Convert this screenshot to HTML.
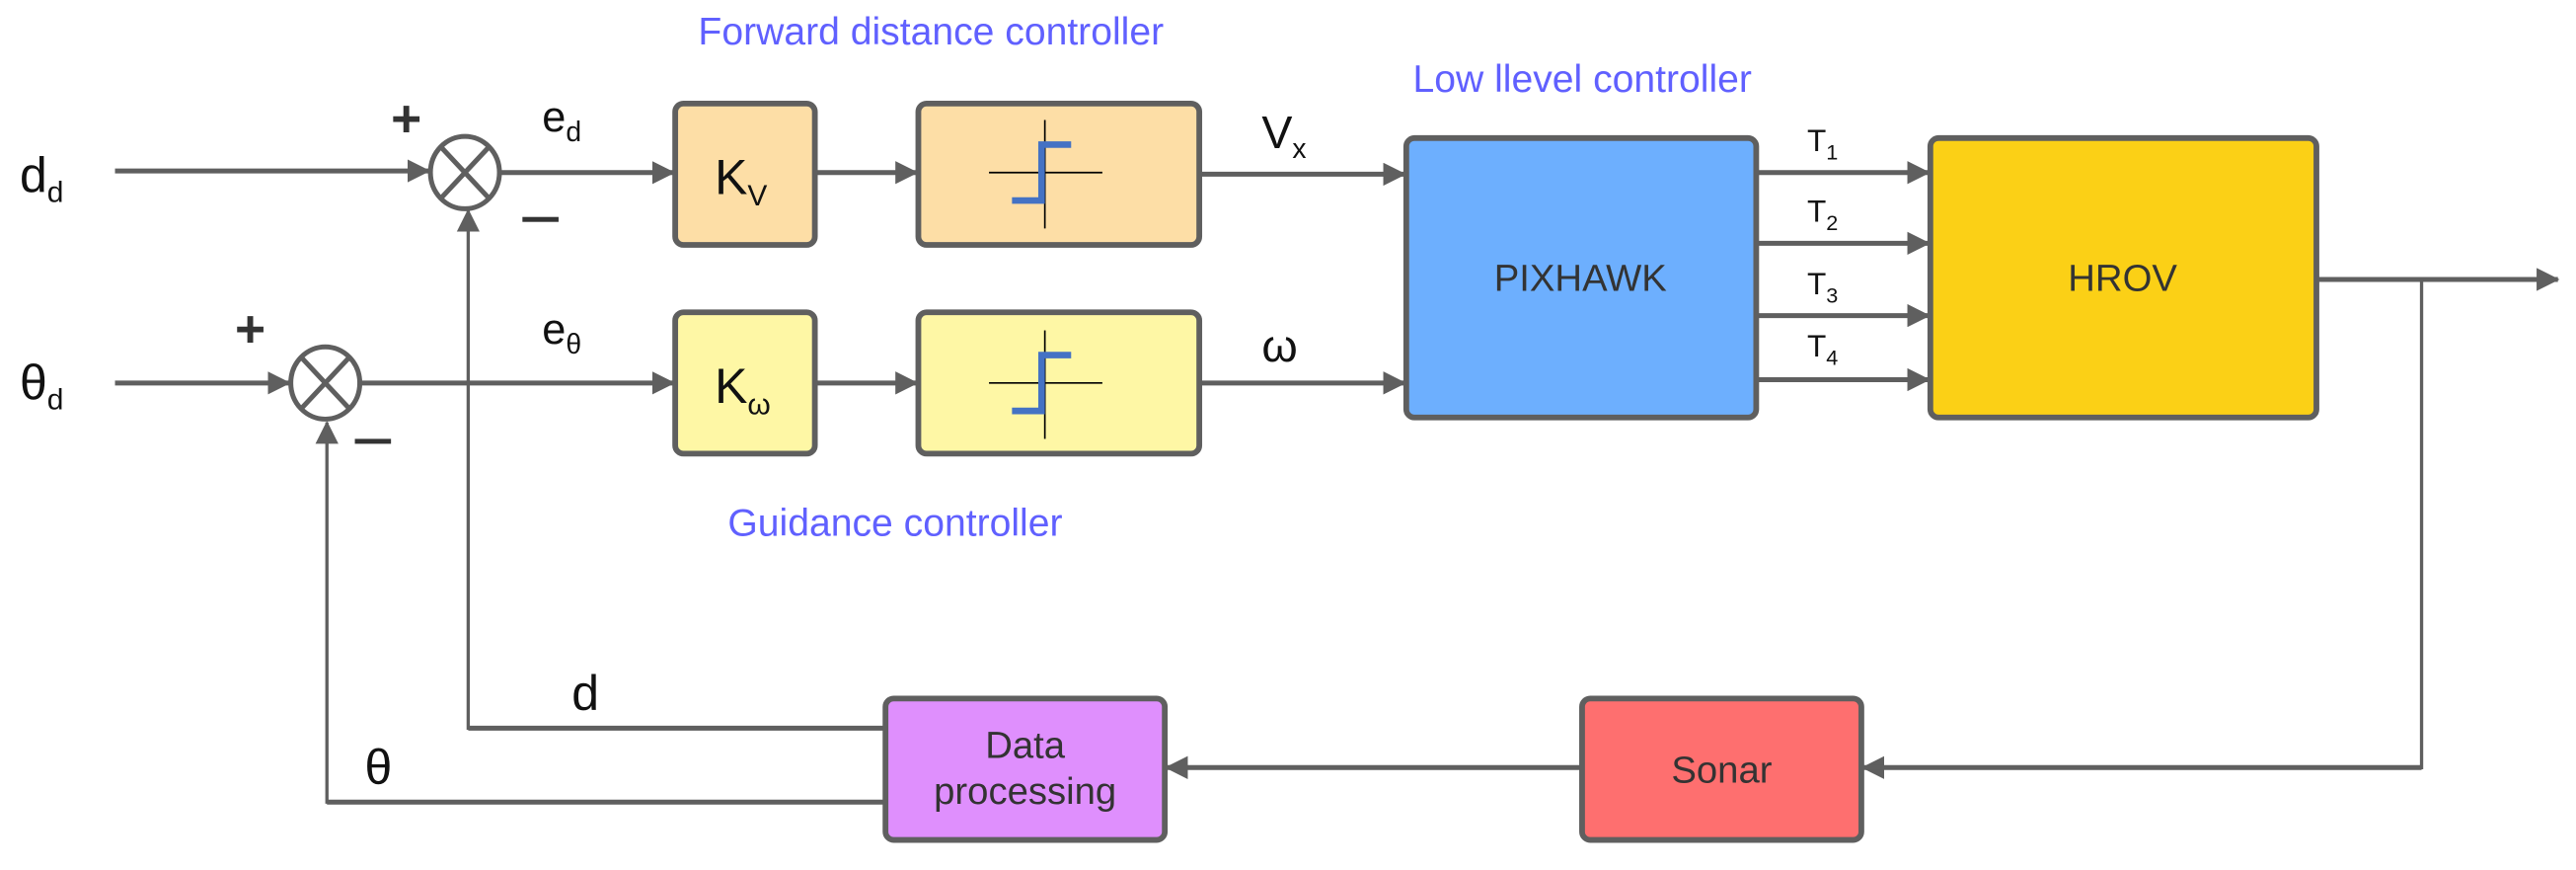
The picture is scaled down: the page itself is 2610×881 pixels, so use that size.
<!DOCTYPE html>
<html><head><meta charset="utf-8"><style>
html,body{margin:0;padding:0;background:#fff;}
svg{display:block;}
text{font-family:"Liberation Sans",sans-serif;}
</style></head><body>
<svg width="2610" height="881" viewBox="0 0 1568 529.3" preserveAspectRatio="none" xmlns="http://www.w3.org/2000/svg">
<defs>
<marker id="b" markerWidth="14" markerHeight="14" refX="13" refY="7" orient="auto" markerUnits="userSpaceOnUse" viewBox="0 0 14 14"><path d="M0,0 L14,7 L0,14 z" fill="#5f5f5f"/></marker>
</defs>
<g fill="#6060ff" font-size="23.5">
<text x="425" y="27">Forward distance controller</text>
<text x="860" y="56">Low llevel controller</text>
<text x="443" y="326">Guidance controller</text>
</g>
<g stroke="#5f5f5f" fill="none" stroke-width="3">
<line x1="70" y1="104" x2="261" y2="104" marker-end="url(#b)"/>
<line x1="70" y1="233" x2="176" y2="233" marker-end="url(#b)"/>
<line x1="305" y1="105" x2="410" y2="105" marker-end="url(#b)"/>
<line x1="220" y1="233" x2="410" y2="233" marker-end="url(#b)"/>
<line x1="497" y1="105" x2="558" y2="105" marker-end="url(#b)"/>
<line x1="497" y1="233" x2="558" y2="233" marker-end="url(#b)"/>
<line x1="731" y1="106" x2="855" y2="106" marker-end="url(#b)"/>
<line x1="731" y1="233" x2="855" y2="233" marker-end="url(#b)"/>
<line x1="1070" y1="105" x2="1174" y2="105" marker-end="url(#b)"/>
<line x1="1070" y1="148" x2="1174" y2="148" marker-end="url(#b)"/>
<line x1="1070" y1="192" x2="1174" y2="192" marker-end="url(#b)"/>
<line x1="1070" y1="231" x2="1174" y2="231" marker-end="url(#b)"/>
<line x1="1411" y1="170" x2="1557" y2="170" marker-end="url(#b)"/>
<path d="M1474,170 V467 H1134" marker-end="url(#b)" stroke-width="2"/>
<line x1="1474" y1="467" x2="1134" y2="467"/>
<line x1="963" y1="467" x2="710" y2="467" marker-end="url(#b)"/>
<path d="M539,443 H285 V128" stroke-width="2" marker-end="url(#b)"/>
<line x1="539" y1="443" x2="285" y2="443"/>
<path d="M539,488 H199 V257" stroke-width="2" marker-end="url(#b)"/>
<line x1="539" y1="488" x2="199" y2="488"/>
</g>
<g stroke="#5f5f5f" stroke-width="3" fill="#fff">
<ellipse cx="283" cy="105" rx="21" ry="22"/>
<ellipse cx="198" cy="233" rx="21" ry="22"/>
</g>
<g stroke="#5f5f5f" stroke-width="3">
<line x1="268" y1="89" x2="298" y2="121"/><line x1="298" y1="89" x2="268" y2="121"/>
<line x1="183" y1="217" x2="213" y2="249"/><line x1="213" y1="217" x2="183" y2="249"/>
</g>
<g stroke="#5f5f5f" stroke-width="3.5">
<rect x="411" y="63" width="85" height="86" rx="5" fill="#fddea6"/>
<rect x="559" y="63" width="171" height="86" rx="5" fill="#fddea6"/>
<rect x="411" y="190" width="85" height="86" rx="5" fill="#fef7a5"/>
<rect x="559" y="190" width="171" height="86" rx="5" fill="#fef7a5"/>
<rect x="856" y="84" width="213" height="170" rx="5" fill="#6daffe"/>
<rect x="1175" y="84" width="235" height="170" rx="5" fill="#fbd016"/>
<rect x="539" y="425" width="170" height="86" rx="5" fill="#df8ffd"/>
<rect x="963" y="425" width="170" height="86" rx="5" fill="#fe6f6f"/>
</g>
<g>
<g stroke="#000" stroke-width="1"><line x1="602" y1="105" x2="671" y2="105"/><line x1="636" y1="73" x2="636" y2="139"/></g>
<path d="M616,122 H634 V88 H652" stroke="#4472c4" stroke-width="4" fill="none"/>
<g stroke="#000" stroke-width="1"><line x1="602" y1="233" x2="671" y2="233"/><line x1="636" y1="201" x2="636" y2="267"/></g>
<path d="M616,250 H634 V216 H652" stroke="#4472c4" stroke-width="4" fill="none"/>
</g>
<g fill="#111">
<text x="12" y="117" font-size="30">d<tspan font-size="18" dy="6">d</tspan></text>
<text x="12" y="243" font-size="30">θ<tspan font-size="18" dy="6">d</tspan></text>
<text x="330" y="80" font-size="26">e<tspan font-size="17" dy="6">d</tspan></text>
<text x="330" y="209" font-size="26">e<tspan font-size="17" dy="6">θ</tspan></text>
<text x="435" y="118" font-size="30">K<tspan font-size="18" dy="7">V</tspan></text>
<text x="435" y="245" font-size="30">K<tspan font-size="18" dy="7">ω</tspan></text>
<text x="768" y="90" font-size="28">V<tspan font-size="17" dy="6">x</tspan></text>
<text x="768" y="220" font-size="28">ω</text>
<text x="1100" y="92" font-size="19">T<tspan font-size="13" dy="5">1</tspan></text>
<text x="1100" y="135" font-size="19">T<tspan font-size="13" dy="5">2</tspan></text>
<text x="1100" y="179" font-size="19">T<tspan font-size="13" dy="5">3</tspan></text>
<text x="1100" y="217" font-size="19">T<tspan font-size="13" dy="5">4</tspan></text>
<text x="348" y="432" font-size="30">d</text>
<text x="222" y="477" font-size="30">θ</text>
</g>
<g fill="#333" font-size="23" text-anchor="middle">
<text x="962" y="177">PIXHAWK</text>
<text x="1292" y="177">HROV</text>
<text x="1048" y="476">Sonar</text>
<text x="624" y="461">Data</text>
<text x="624" y="489">processing</text>
</g>
<g fill="#333" font-size="32" font-weight="bold">
<text x="238" y="83">+</text>
<text x="143" y="211">+</text>
</g>
<g fill="#333">
<rect x="318" y="132" width="22" height="3"/>
<rect x="216" y="267" width="22" height="3"/>
</g>
</svg>
</body></html>
